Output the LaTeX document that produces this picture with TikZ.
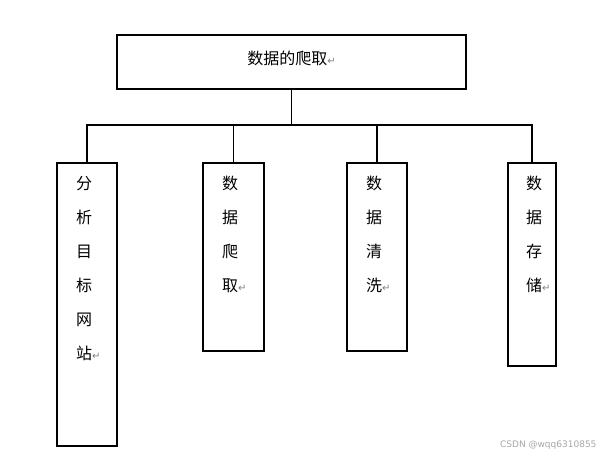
\documentclass[tikz,border=0pt]{standalone}
\usepackage{fontspec}
\newfontfamily\cjk{Noto Sans CJK SC}
\newfontfamily\dv{DejaVu Sans}
\newcommand{\ret}{{\dv\fontsize{10}{10}\selectfont\textcolor{gray}{↵}}}
\begin{document}
\begin{tikzpicture}[x=1pt,y=-1pt,
  box/.style={draw,line width=1.8pt,inner sep=0pt},
  ln/.style={line width=1.8pt},
  txt/.style={font=\cjk\fontsize{16}{34}\selectfont,align=left,anchor=north west,inner sep=0pt}]
\useasboundingbox (0,0) rectangle (611,456);
\node[box,minimum width=349pt,minimum height=54pt] (top) at (291.5,62) {};
\node[font=\cjk\fontsize{16}{16}\selectfont] at (291.5,58) {数据的爬取\ret};
\node[box,minimum width=60pt,minimum height=283pt,anchor=north] (b1) at (87,162) {};
\node[box,minimum width=61pt,minimum height=188pt,anchor=north] (b2) at (233.5,162) {};
\node[box,minimum width=60pt,minimum height=188pt,anchor=north] (b3) at (377,162) {};
\node[box,minimum width=48pt,minimum height=203pt,anchor=north] (b4) at (532,162) {};
\node[txt] at (76,176) {分\\析\\目\\标\\网\\站\ret};
\node[txt] at (222,176) {数\\据\\爬\\取\ret};
\node[txt] at (366,176) {数\\据\\清\\洗\ret};
\node[txt] at (526,176) {数\\据\\存\\储\ret};
\coordinate (j) at (291.5,125);
\draw[ln] (top.south) -- (j);
\draw[ln] (b1.north) |- (b4.north |- j) -- (b4.north);
\draw[ln] (b2.north) -- (b2.north |- j);
\draw[ln] (b3.north) -- (b3.north |- j);
\node[font=\dv\fontsize{9}{9}\selectfont,text=gray!70,anchor=east] (wm) at (600,445) {CSDN @wqq6310855};
\end{tikzpicture}
\end{document}
